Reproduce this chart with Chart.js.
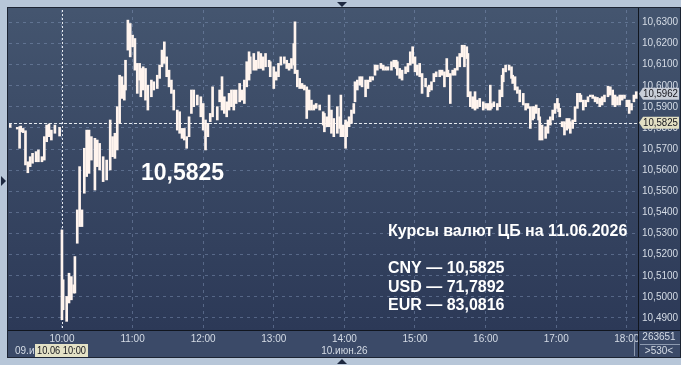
<!DOCTYPE html>
<html>
<head>
<meta charset="utf-8">
<script src="https://cdn.jsdelivr.net/npm/chart.js@4.4.1/dist/chart.umd.min.js"></script>
<style>
  html, body { margin: 0; padding: 0; background: #b7c6d8; }
  canvas { display: block; }
</style>
</head>
<body>
<canvas id="rateChart" width="681" height="365"></canvas>
<script>
// bar positions, minutes from 10:00 on 10.06 (negative = end of the 09.06 session)
const minutes = [
  -44, -38, -36, -35, -33, -31, -29, -27, -25, -22, -20, -17, -15, -13, -11, -9, -6, -2,
  0, 1, 4, 6, 8, 10, 11, 13, 15, 17, 19, 21, 23, 25, 28, 30, 32, 35, 38, 41, 43,
  45, 47, 49, 51, 53, 54, 56, 58, 60, 62, 64, 66, 67, 69, 71, 73, 76, 78, 81, 83, 85, 87, 89, 91, 93, 95,
  98, 100, 102, 104, 106, 108, 110, 112, 115, 118, 120, 122, 124, 126, 128, 132,
  134, 136, 138, 140, 142, 144, 146, 148, 151, 153, 155, 157, 159, 160, 163, 165, 167, 169, 171, 173,
  176, 177, 180, 182, 184, 186, 189, 191, 193, 195, 197, 198, 200, 202, 204, 206, 208, 210, 212, 214, 216, 219, 222,
  223, 225, 227, 229, 231, 234, 236, 237, 239, 241, 242, 244, 246, 248, 249, 251, 253, 255, 258, 260, 262, 264,
  266, 268, 271, 273, 275, 277, 280, 282, 284, 285, 287, 289, 292, 294, 296, 298, 300, 302, 304, 306, 309, 311,
  312, 314, 316, 318, 321, 323, 325, 327, 328, 330, 332, 334, 336, 338, 340, 342, 344, 345, 347, 349, 351, 353, 355,
  358, 360, 362, 364, 365, 367, 370, 372, 374, 375, 377, 380, 382, 383, 385, 387, 389, 392, 394, 396, 398, 400,
  401, 403, 405, 406, 408, 411, 413, 415, 417, 419, 421, 422, 423, 425, 427, 429, 431, 432, 434, 436, 438, 440, 441,
  443, 445, 447, 449, 451, 453, 455, 457, 459, 461, 464, 466, 468, 470, 472, 474, 476, 478, 480, 482, 484, 486, 488
];

const highs = [
  10.5817, 10.5803, 10.5806, 10.5809, 10.5798, 10.5787, 10.5640, 10.5664, 10.5680, 10.5688, 10.5696, 10.5664, 10.5759, 10.5814, 10.5819, 10.5790, 10.5814, 10.5803,
  10.5317, 10.5081, 10.5002, 10.5112, 10.5096, 10.5057, 10.5191, 10.5412, 10.5617, 10.5412, 10.5704, 10.5790, 10.5790, 10.5759, 10.5751, 10.5743, 10.5727, 10.5664, 10.5648, 10.5838, 10.5759,
  10.5775, 10.5901, 10.6050, 10.6043, 10.6003, 10.6121, 10.6311, 10.6295, 10.6240, 10.6224, 10.6106, 10.6106, 10.6082, 10.6090, 10.6082, 10.6003, 10.6027, 10.6019, 10.6050, 10.6098, 10.6169, 10.6208, 10.6137, 10.6074, 10.6027, 10.5980,
  10.5885, 10.5877, 10.5798, 10.5798, 10.5759, 10.5853, 10.5980, 10.5980, 10.5956, 10.5948, 10.5916, 10.5838, 10.5822, 10.5869, 10.5995, 10.5901,
  10.5980, 10.6043, 10.5948, 10.5924, 10.5964, 10.5980, 10.5980, 10.5980, 10.6011, 10.5980, 10.6027, 10.6114, 10.6161, 10.6137, 10.6153, 10.6121, 10.6161, 10.6153, 10.6137, 10.6153,
  10.6121, 10.6114, 10.6090, 10.6066, 10.6106, 10.6137, 10.6137, 10.6121, 10.6106, 10.6129, 10.6200, 10.6303, 10.6074, 10.6035, 10.6011, 10.6003, 10.5995, 10.5980, 10.5932, 10.5909, 10.5916, 10.5909, 10.5877,
  10.5869, 10.5853, 10.5956, 10.5885, 10.5845, 10.5901, 10.5853, 10.5956, 10.5814, 10.5838, 10.5830, 10.5853, 10.5885, 10.5916, 10.6019, 10.6027, 10.6043, 10.6043, 10.6027, 10.6027, 10.6043, 10.6043,
  10.6098, 10.6098, 10.6106, 10.6098, 10.6090, 10.6090, 10.6114, 10.6121, 10.6121, 10.6114, 10.6082, 10.6074, 10.6090, 10.6106, 10.6161, 10.6185, 10.6137, 10.6098, 10.6106, 10.6058, 10.6035, 10.5995,
  10.6003, 10.6019, 10.6058, 10.6066, 10.6074, 10.6074, 10.6066, 10.6129, 10.6074, 10.6058, 10.6074, 10.6082, 10.6137, 10.6153, 10.6192, 10.6192, 10.6185, 10.6153, 10.5972, 10.5948, 10.5972, 10.5932, 10.5940,
  10.5924, 10.5916, 10.5916, 10.6003, 10.5916, 10.5924, 10.5916, 10.5980, 10.6050, 10.6082, 10.6098, 10.6098, 10.6090, 10.6050, 10.6043, 10.5995, 10.5980, 10.5964, 10.5916, 10.5916, 10.5901, 10.5901,
  10.5901, 10.5909, 10.5893, 10.5853, 10.5814, 10.5806, 10.5838, 10.5853, 10.5885, 10.5916, 10.5940, 10.5916, 10.5893, 10.5830, 10.5830, 10.5845, 10.5845, 10.5830, 10.5838, 10.5901, 10.5964, 10.5964, 10.5956,
  10.5932, 10.5932, 10.5948, 10.5956, 10.5956, 10.5948, 10.5945, 10.5940, 10.5948, 10.5956, 10.5998, 10.5995, 10.5980, 10.5956, 10.5948, 10.5956, 10.5956, 10.5956, 10.5932, 10.5932, 10.5916, 10.5956, 10.5972
];

const lows = [
  10.5803, 10.5795, 10.5704, 10.5782, 10.5778, 10.5625, 10.5588, 10.5617, 10.5633, 10.5640, 10.5640, 10.5640, 10.5648, 10.5735, 10.5759, 10.5743, 10.5775, 10.5762,
  10.4892, 10.4939, 10.4884, 10.4971, 10.4986, 10.5018, 10.5018, 10.5254, 10.5333, 10.5333, 10.5491, 10.5570, 10.5585, 10.5648, 10.5506, 10.5617, 10.5601, 10.5546, 10.5554, 10.5601, 10.5664,
  10.5656, 10.5696, 10.5822, 10.5940, 10.5932, 10.5980, 10.6169, 10.6137, 10.6185, 10.6074, 10.5964, 10.6027, 10.5948, 10.5980, 10.5932, 10.5885, 10.5948, 10.5980, 10.5987, 10.6035, 10.6090, 10.6106, 10.6043, 10.5995, 10.5964, 10.5885,
  10.5790, 10.5775, 10.5751, 10.5743, 10.5704, 10.5759, 10.5869, 10.5901, 10.5909, 10.5853, 10.5790, 10.5696, 10.5759, 10.5830, 10.5853, 10.5838,
  10.5924, 10.5885, 10.5869, 10.5853, 10.5885, 10.5901, 10.5885, 10.5916, 10.5924, 10.5932, 10.5916, 10.5995, 10.6027, 10.6058, 10.6074, 10.6074, 10.6082, 10.6082, 10.6074, 10.6090,
  10.6090, 10.6043, 10.5987, 10.6027, 10.6043, 10.6098, 10.6106, 10.6082, 10.6074, 10.6082, 10.6098, 10.6058, 10.5995, 10.5987, 10.5987, 10.5980, 10.5845, 10.5885, 10.5885, 10.5885, 10.5893, 10.5885, 10.5814,
  10.5782, 10.5806, 10.5806, 10.5775, 10.5759, 10.5775, 10.5798, 10.5759, 10.5759, 10.5704, 10.5759, 10.5806, 10.5822, 10.5869, 10.5924, 10.5980, 10.6003, 10.5995, 10.5948, 10.5987, 10.6019, 10.6027,
  10.6050, 10.6074, 10.6082, 10.6074, 10.6074, 10.6074, 10.6074, 10.6090, 10.6082, 10.6050, 10.6035, 10.6027, 10.6058, 10.6066, 10.6098, 10.6106, 10.6066, 10.6050, 10.6043, 10.5964, 10.5995, 10.5948,
  10.5972, 10.5980, 10.6019, 10.6043, 10.6043, 10.6050, 10.5995, 10.6043, 10.6043, 10.5916, 10.6050, 10.6050, 10.6074, 10.6090, 10.6137, 10.6090, 10.6129, 10.5948, 10.5901, 10.5893, 10.5885, 10.5893, 10.5901,
  10.5885, 10.5893, 10.5885, 10.5885, 10.5893, 10.5901, 10.5885, 10.5901, 10.5948, 10.6019, 10.6066, 10.6074, 10.6035, 10.6011, 10.5980, 10.5964, 10.5924, 10.5909, 10.5885, 10.5893, 10.5798, 10.5838,
  10.5845, 10.5869, 10.5838, 10.5743, 10.5743, 10.5751, 10.5775, 10.5814, 10.5838, 10.5869, 10.5893, 10.5877, 10.5853, 10.5806, 10.5767, 10.5790, 10.5798, 10.5775, 10.5798, 10.5830, 10.5893, 10.5924, 10.5924,
  10.5885, 10.5901, 10.5924, 10.5948, 10.5940, 10.5924, 10.5916, 10.5901, 10.5909, 10.5924, 10.5948, 10.5956, 10.5909, 10.5901, 10.5909, 10.5909, 10.5932, 10.5940, 10.5901, 10.5869, 10.5885, 10.5924, 10.5940
];

const lastPrice = 10.5962;
const cbPrice = 10.5825;
const bigLabel = '10,5825';
const infoTitle = 'Курсы валют ЦБ на 11.06.2026';
const infoLines = ['CNY — 10,5825', 'USD — 71,7892', 'EUR — 83,0816'];
const dayLabels = ['09.июн.26', '10.июн.26'];
const cursorLabel = '10.06 10:00';
const volumeLabels = ['263651', '>530<'];

const FONT = "'Liberation Sans', Arial, sans-serif";
const fmt = v => v.toFixed(4).replace('.', ',');

function tri(ctx, pts) {
  ctx.beginPath();
  ctx.moveTo(pts[0], pts[1]);
  ctx.lineTo(pts[2], pts[3]);
  ctx.lineTo(pts[4], pts[5]);
  ctx.closePath();
  ctx.fill();
}

function priceTag(ctx, x, y, text, bg) {
  ctx.fillStyle = bg;
  ctx.beginPath();
  ctx.moveTo(x, y);
  ctx.lineTo(x + 4, y - 6);
  ctx.lineTo(x + 40, y - 6);
  ctx.lineTo(x + 40, y + 6);
  ctx.lineTo(x + 4, y + 6);
  ctx.closePath();
  ctx.fill();
  ctx.fillStyle = '#15151c';
  ctx.font = '10px ' + FONT;
  ctx.textAlign = 'left';
  ctx.textBaseline = 'middle';
  ctx.fillText(text, x + 4, y + 0.5, 35);
}

const chrome = {
  id: 'chrome',
  beforeDraw(chart) {
    const { ctx, chartArea: a } = chart;
    ctx.save();
    ctx.fillStyle = '#b7c6d8';
    ctx.fillRect(0, 0, chart.width, chart.height);
    const g = ctx.createLinearGradient(0, a.top, 0, a.bottom);
    g.addColorStop(0, '#44556f');
    g.addColorStop(1, '#2c3957');
    ctx.fillStyle = g;
    ctx.fillRect(8, 8, 672, a.bottom - 8);
    ctx.fillStyle = '#3b4a68';
    ctx.fillRect(8, a.bottom, 672, 357 - a.bottom);
    ctx.restore();
  },
  beforeDatasetsDraw(chart) {
    const { ctx, chartArea: a, scales: { x, y } } = chart;
    ctx.save();
    ctx.lineWidth = 1;
    // session start
    const x0 = Math.round(x.getPixelForValue(0)) + 0.5;
    ctx.strokeStyle = '#e6eaf0';
    ctx.setLineDash([2, 2]);
    ctx.beginPath();
    ctx.moveTo(x0, a.top);
    ctx.lineTo(x0, a.bottom);
    ctx.stroke();
    // CB rate line
    const yc = Math.round(y.getPixelForValue(cbPrice)) + 0.5;
    ctx.setLineDash([3, 2]);
    ctx.beginPath();
    ctx.moveTo(a.left, yc);
    ctx.lineTo(a.right, yc);
    ctx.stroke();
    ctx.restore();
  },
  afterDraw(chart) {
    const { ctx, chartArea: a, scales: { y } } = chart;
    ctx.save();
    // frame lines
    ctx.strokeStyle = '#11161f';
    ctx.lineWidth = 1;
    ctx.beginPath();
    ctx.moveTo(8, a.bottom + 0.5);
    ctx.lineTo(680, a.bottom + 0.5);
    ctx.moveTo(a.right + 0.5, 8);
    ctx.lineTo(a.right + 0.5, 357);
    ctx.stroke();
    ctx.strokeStyle = '#1c2433';
    ctx.strokeRect(7.5, 7.5, 673, 350);

    // bottom strip labels
    ctx.font = '10px ' + FONT;
    ctx.textBaseline = 'middle';
    ctx.fillStyle = '#d5dce6';
    ctx.textAlign = 'left';
    ctx.fillText(dayLabels[0], 15, 351);
    ctx.textAlign = 'center';
    ctx.fillText(dayLabels[1], chart.scales.x.getPixelForValue(240), 351);
    ctx.fillStyle = '#e4e2c6';
    ctx.fillRect(35, 344, 53, 13);
    ctx.fillStyle = '#15151c';
    ctx.textAlign = 'left';
    ctx.fillText(cursorLabel, 37, 351, 49);

    // volume box
    ctx.strokeStyle = '#8d9ab0';
    ctx.beginPath();
    ctx.moveTo(634.5, 334);
    ctx.lineTo(634.5, 356);
    ctx.moveTo(640, 344.5);
    ctx.lineTo(680, 344.5);
    ctx.stroke();
    ctx.fillStyle = '#d5dce6';
    ctx.textAlign = 'center';
    ctx.fillText(volumeLabels[0], 659, 337.5, 34);
    ctx.fillText(volumeLabels[1], 659, 351.5, 34);

    // price tags
    priceTag(ctx, a.right + 1, y.getPixelForValue(lastPrice), fmt(lastPrice), '#c9ced8');
    priceTag(ctx, a.right + 1, y.getPixelForValue(cbPrice), fmt(cbPrice), '#e2dfc3');

    // small markers
    ctx.fillStyle = '#1d2840';
    tri(ctx, [337, 2, 347, 2, 342, 7]);
    tri(ctx, [337, 364, 347, 364, 342, 359]);
    tri(ctx, [1, 176, 1, 186, 6, 181]);

    // annotations
    ctx.fillStyle = '#ffffff';
    ctx.textAlign = 'left';
    ctx.textBaseline = 'alphabetic';
    ctx.font = 'bold 23px ' + FONT;
    ctx.fillText(bigLabel, 141, 180);
    ctx.font = 'bold 16px ' + FONT;
    ctx.fillText(infoTitle, 388, 236);
    infoLines.forEach((t, i) => ctx.fillText(t, 388, 273 + i * 18.5));
    ctx.restore();
  }
};

new Chart(document.getElementById('rateChart'), {
  type: 'bar',
  data: {
    datasets: [{
      data: minutes.map((m, i) => ({ x: m, y: [lows[i], highs[i]] })),
      backgroundColor: '#fff4ee',
      borderWidth: 0,
      barThickness: 2,
      grouped: false
    }]
  },
  options: {
    responsive: false,
    animation: false,
    devicePixelRatio: 1,
    layout: { padding: { left: 9, top: 9, right: 0, bottom: 0 } },
    plugins: {
      legend: { display: false },
      tooltip: { enabled: false }
    },
    scales: {
      x: {
        type: 'linear',
        min: -45,
        max: 489.5,
        offset: false,
        afterFit(s) { s.height = 35; },
        grid: { offset: false, color: 'rgba(135,155,190,0.45)', drawTicks: false },
        border: { display: false, dash: [3, 4] },
        ticks: {
          stepSize: 60,
          includeBounds: false,
          autoSkip: false,
          maxRotation: 0,
          padding: 3,
          color: '#d5dce6',
          font: { family: FONT, size: 10 },
          callback: v => (10 + v / 60) + ':00'
        }
      },
      y: {
        position: 'right',
        min: 10.4843,
        max: 10.6359,
        afterFit(s) { s.width = 43; },
        grid: { color: 'rgba(135,155,190,0.45)', drawTicks: false },
        border: { display: false, dash: [3, 4] },
        ticks: {
          stepSize: 0.01,
          includeBounds: false,
          autoSkip: false,
          padding: 4,
          color: '#d5dce6',
          font: { family: FONT, size: 10 },
          callback: v => fmt(v)
        }
      }
    }
  },
  plugins: [chrome]
});
</script>
</body>
</html>
